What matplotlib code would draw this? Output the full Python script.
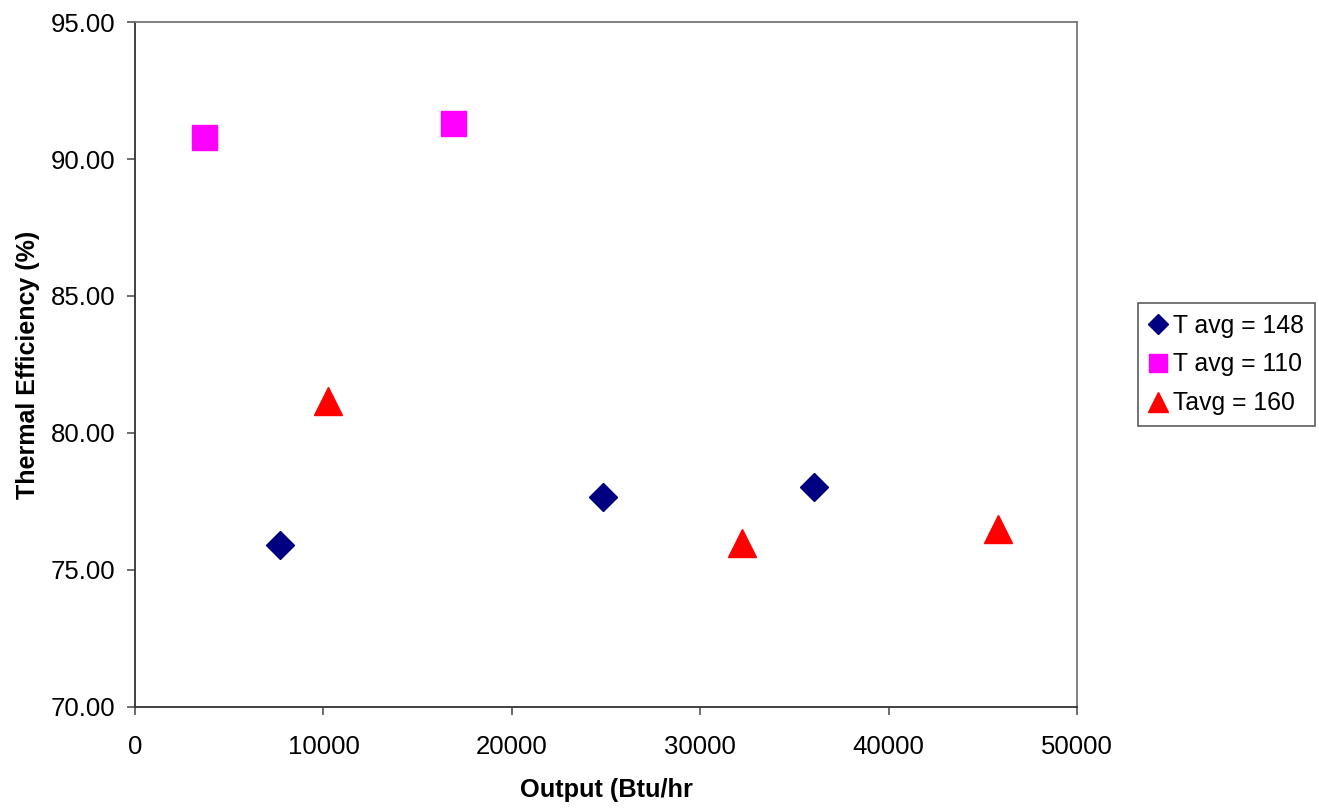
import matplotlib
matplotlib.use("Agg")
import matplotlib.pyplot as plt
from matplotlib.ticker import FormatStrFormatter

plt.rcParams['font.family'] = ['Liberation Sans', 'DejaVu Sans']

# data
x_148 = [7700, 24850, 36050]
y_148 = [75.91, 77.66, 78.03]
x_110 = [3650, 16900]
y_110 = [90.80, 91.30]
x_160 = [10250, 32200, 45800]
y_160 = [81.15, 76.00, 76.50]

fig = plt.figure(figsize=(13.19, 8.09), dpi=100)
ax = fig.add_axes([0.1024, 0.1261, 0.7141, 0.8467])

ax.plot(x_148, y_148, linestyle='none', marker='D', markersize=14,
        color='#000080', label='T avg = 148')
ax.plot(x_110, y_110, linestyle='none', marker='s', markersize=18,
        color='#ff00ff', label='T avg = 110')
ax.plot(x_160, y_160, linestyle='none', marker='^', markersize=20,
        color='#ff0000', label='Tavg = 160')

ax.set_xlim(0, 50000)
ax.set_ylim(70, 95)
ax.set_xticks([0, 10000, 20000, 30000, 40000, 50000])
ax.set_yticks([70, 75, 80, 85, 90, 95])
ax.yaxis.set_major_formatter(FormatStrFormatter('%.2f'))
ax.tick_params(direction='out', length=6, width=1.2, color='#555555',
               labelsize=18.5, pad=8)
ax.tick_params(axis='x', pad=14)
for s in ['left', 'bottom']:
    ax.spines[s].set_color('#333333')
    ax.spines[s].set_linewidth(1.3)
for s in ['top', 'right']:
    ax.spines[s].set_color('#777777')
    ax.spines[s].set_linewidth(1.3)

ax.set_xlabel('Output (Btu/hr', fontsize=18.3, fontweight='bold', labelpad=14)
ax.set_ylabel('Thermal Efficiency (%)', fontsize=18, fontweight='bold', labelpad=8)

leg = ax.legend(loc='center left', bbox_to_anchor=(1.065, 0.5), fontsize=17.8,
                frameon=True, fancybox=False, edgecolor='#333333',
                handlelength=0.7, handletextpad=0.25, borderpad=0.45,
                borderaxespad=0, labelspacing=0.6, markerscale=0.7)
leg.get_frame().set_linewidth(1.2)

fig.savefig('out.png', dpi=100)
